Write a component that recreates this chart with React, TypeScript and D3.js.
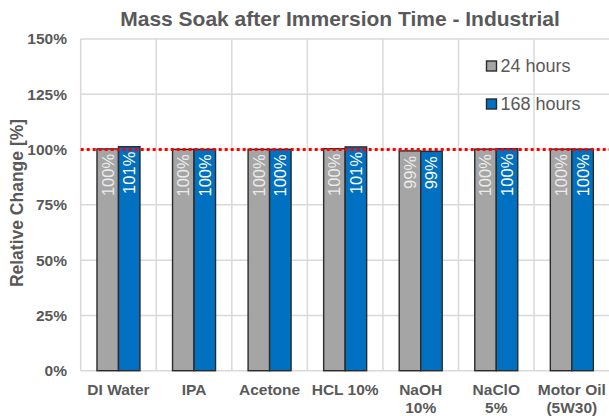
import React from "react";
import * as d3 from "d3";

const categories = ["DI Water", "IPA", "Acetone", "HCL 10%", "NaOH\n10%", "NaClO\n5%", "Motor Oil\n(5W30)"];
const series = ["24 hours", "168 hours"];
const values24 = [100.3, 100.1, 100.1, 100.4, 99.4, 100.2, 100.2];
const values168 = [101.3, 100.1, 100.1, 101.2, 99.2, 100.4, 100.2];
const yTicks = [0, 25, 50, 75, 100, 125, 150];
const refValue = 100;

const W = 609;
const H = 416;
const FONT = "Arial, 'Liberation Sans', Helvetica, sans-serif";
const TXT = "#595959";
const colors = ["#a5a5a5", "#0070c0"];
const labelColors = ["#ececec", "#ffffff"];

export default function App() {
  const left = 80.7;
  const right = 609.6;
  const top = 39;
  const bottom = 370.7;

  const x = d3.scaleBand<string>().domain(categories).range([left, right]).paddingInner(0).paddingOuter(0);
  const xs = d3.scaleBand<string>().domain(series).range([0, x.bandwidth()]).paddingInner(0).paddingOuter(0.757);
  const y = d3.scaleLinear().domain([0, 150]).range([bottom, top]);
  const data = [values24, values168];

  return (
    <svg width={W} height={H} style={{ position: "absolute", left: 0, top: 0, background: "#fff" }} fontFamily={FONT}>
      <text x={340} y={26} textAnchor="middle" fontSize={21} fontWeight="bold" fill={TXT}>
        Mass Soak after Immersion Time - Industrial
      </text>
      {/* grid */}
      {yTicks.map((t) => (
        <line key={"h" + t} x1={left} x2={right} y1={y(t)} y2={y(t)} stroke="#d9d9d9" strokeWidth={1.5} />
      ))}
      {categories.map((c) => (
        <line key={"v" + c} x1={x(c)!} x2={x(c)!} y1={top} y2={bottom} stroke="#d9d9d9" strokeWidth={1.5} />
      ))}
      {/* y tick labels */}
      {yTicks.map((t) => (
        <text key={"yt" + t} x={67} y={y(t)} dy="0.35em" textAnchor="end" fontSize={15.5} fontWeight="bold" fill={TXT}>
          {t + "%"}
        </text>
      ))}
      <text
        transform={`translate(23,203) rotate(-90)`}
        textAnchor="middle"
        fontSize={17.5}
        fontWeight="bold"
        fill={TXT}
      >
        Relative Change [%]
      </text>
      {/* bars */}
      {series.map((s, si) =>
        categories.map((c, ci) => {
          const v = data[si][ci];
          const bx = x(c)! + xs(s)!;
          const bw = xs.bandwidth();
          return (
            <g key={s + c}>
              <rect x={bx} y={y(v)} width={bw} height={y(0) - y(v)} fill={colors[si]} stroke="#2b2b2b" strokeWidth={1.4} />
              <text
                transform={`translate(${bx + bw / 2},${y(v) + 5}) rotate(-90)`}
                textAnchor="end"
                dy="0.36em"
                fontSize={16.5}
                fill={labelColors[si]}
              >
                {Math.round(v) + "%"}
              </text>
            </g>
          );
        })
      )}
      {/* reference line */}
      <line x1={left} x2={right} y1={y(refValue)} y2={y(refValue)} stroke="#ff0000" strokeWidth={3} strokeDasharray="3 3" />
      {/* x labels */}
      {categories.map((c) => {
        const lines = c.split("\n");
        return (
          <text key={"xl" + c} x={x(c)! + x.bandwidth() / 2} textAnchor="middle" fontSize={15.5} fontWeight="bold" fill={TXT}>
            {lines.map((l, i) => (
              <tspan key={i} x={x(c)! + x.bandwidth() / 2} y={394.5 + i * 18}>
                {l}
              </tspan>
            ))}
          </text>
        );
      })}
      {/* legend */}
      {series.map((s, i) => (
        <g key={"lg" + s} transform={`translate(486.5,${66 + i * 38})`}>
          <rect x={0} y={-5} width={10} height={10} fill={colors[i]} stroke="#2b2b2b" strokeWidth={1.4} />
          <text x={14} y={0} dy="0.35em" fontSize={18} fill={TXT}>
            {s}
          </text>
        </g>
      ))}
    </svg>
  );
}
